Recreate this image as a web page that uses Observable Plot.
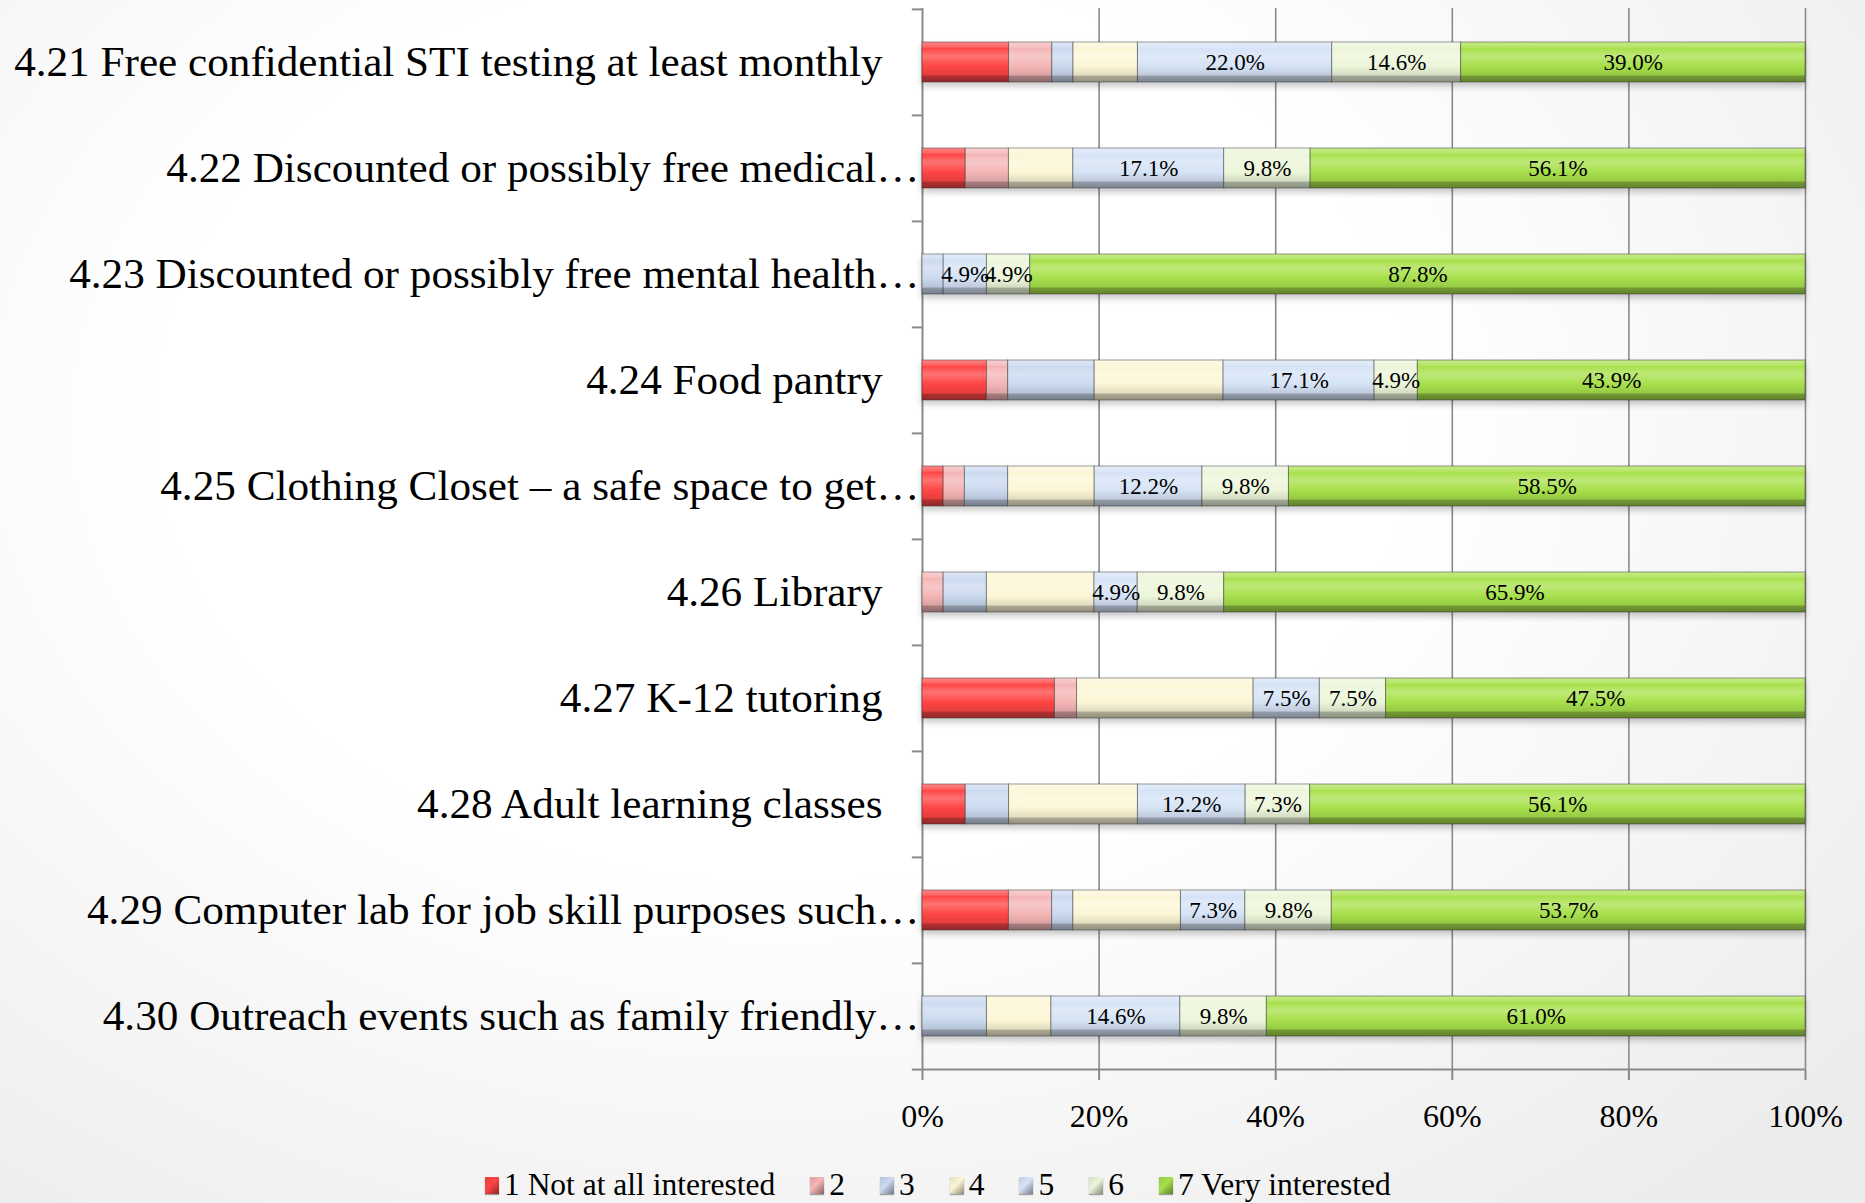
<!DOCTYPE html>
<html>
<head>
<meta charset="utf-8">
<script src="https://cdn.jsdelivr.net/npm/d3@7"></script>
<script src="https://cdn.jsdelivr.net/npm/@observablehq/plot@0.6"></script>
<style>
  html, body { margin: 0; padding: 0; }
  body {
    width: 1865px; height: 1203px; overflow: hidden; position: relative;
    background: radial-gradient(ellipse 75% 85% at 42% 35%, #ffffff 45%, #ececec 100%);
    font-family: "Liberation Serif", "DejaVu Serif", serif;
  }
  #chart { position: absolute; left: 0; top: 0; }
  #legend {
    position: absolute; left: 485px; top: 1167px;
    display: flex; align-items: center; gap: 0;
    font-size: 31.5px; color: #000; white-space: nowrap;
  }
  .item { display: flex; align-items: center; margin-right: 35px; }
  .sw { width: 14px; height: 17px; margin-right: 5px; box-shadow: 0 1px 1px rgba(0,0,0,0.35); }
</style>
</head>
<body>
<div id="chart"></div>
<div id="legend"></div>
<script>
const categories = [
  "4.21 Free confidential STI testing at least monthly",
  "4.22 Discounted or possibly free medical…",
  "4.23 Discounted or possibly free mental health…",
  "4.24 Food pantry",
  "4.25 Clothing Closet – a safe space to get…",
  "4.26 Library",
  "4.27 K-12 tutoring",
  "4.28 Adult learning classes",
  "4.29 Computer lab for job skill purposes such…",
  "4.30 Outreach events such as family friendly…"
];
const seriesNames = ["1 Not at all interested", "2", "3", "4", "5", "6", "7 Very interested"];
const s1 = [9.8, 4.9, 0, 7.3, 2.4, 0, 15.0, 4.9, 9.8, 0];
const s2 = [4.9, 4.9, 0, 2.4, 2.4, 2.4, 2.5, 0, 4.9, 0];
const s3 = [2.4, 0, 2.4, 9.8, 4.9, 4.9, 0, 4.9, 2.4, 7.3];
const s4 = [7.3, 7.3, 0, 14.6, 9.8, 12.2, 20.0, 14.6, 12.2, 7.3];
const s5 = [22.0, 17.1, 4.9, 17.1, 12.2, 4.9, 7.5, 12.2, 7.3, 14.6];
const s6 = [14.6, 9.8, 4.9, 4.9, 9.8, 9.8, 7.5, 7.3, 9.8, 9.8];
const s7 = [39.0, 56.1, 87.8, 43.9, 58.5, 65.9, 47.5, 56.1, 53.7, 61.0];
const labeledSeries = ["5", "6", "7 Very interested"];
const xTicks = [0, 0.2, 0.4, 0.6, 0.8, 1];

const baseColors = ["#ff4545", "#f4b5b6", "#cbdaf0", "#fcf6d6", "#d5e3f6", "#ecf6da", "#a8e04c"];

const allSeries = [s1, s2, s3, s4, s5, s6, s7];
const data = [];
allSeries.forEach((arr, k) => arr.forEach((v, i) => data.push({cat: categories[i], k: seriesNames[k], v})));

const W = 1865, H = 1150, mt = 8, mb = 80, ml = 922, mr = 60;
const step = (H - mt - mb) / categories.length;
const font = "Liberation Serif, DejaVu Serif, serif";

const full = categories.filter(c => !c.endsWith("…"));
const trunc = categories.filter(c => c.endsWith("…"));

const chart = Plot.plot({
  width: W, height: H,
  marginTop: mt, marginBottom: mb, marginLeft: ml, marginRight: mr,
  style: {background: "transparent", fontFamily: font, color: "#000"},
  x: {domain: [0, 1], axis: null, label: null},
  y: {domain: categories, axis: null, paddingInner: 0.62, paddingOuter: 0.31},
  color: {domain: seriesNames, range: seriesNames.map((_, i) => `url(#grad${i})`)},
  marks: [
    Plot.gridX(xTicks.slice(1), {stroke: "#8a8a8a", strokeOpacity: 1, strokeWidth: 1.6}),
    Plot.ruleX([0], {stroke: "#8a8a8a", strokeWidth: 2}),
    Plot.ruleY([categories[categories.length - 1]], {stroke: "#8a8a8a", strokeWidth: 2, dy: step / 2}),
    Plot.ruleY(categories, {x1: -0.0115, x2: 0, stroke: "#8a8a8a", strokeWidth: 2, dy: -step / 2}),
    Plot.ruleY([categories[categories.length - 1]], {x1: -0.0115, x2: 0, stroke: "#8a8a8a", strokeWidth: 2, dy: step / 2}),
    Plot.axisX(xTicks, {tickSize: 10, tickPadding: 24, tickFormat: d3.format(".0%"), fontSize: 32, stroke: "#8a8a8a", strokeWidth: 2, color: "#000", label: null}),
    Plot.barX(data, Plot.stackX({x: "v", y: "cat", fill: "k", offset: "normalize", stroke: "rgba(40,40,40,0.45)", strokeWidth: 1})),
    Plot.text(data, Plot.stackX({
      x: "v", y: "cat", z: "k", offset: "normalize",
      text: d => labeledSeries.includes(d.k) && d.v > 0 ? d.v.toFixed(1) + "%" : "",
      fontSize: 23, fill: "#000"
    })),
    Plot.text(full, {y: d => d, text: d => d, frameAnchor: "left", textAnchor: "end", dx: -40, fontSize: 43.2, fill: "#000"}),
    Plot.text(trunc, {y: d => d, text: d => d, frameAnchor: "left", textAnchor: "end", dx: -3, fontSize: 43.2, fill: "#000"})
  ]
});

// gradients for bevelled bars
function shade(c, t) { // t>0 lighten toward white, t<0 darken
  const col = d3.rgb(c);
  const target = t > 0 ? 255 : 0, a = Math.abs(t);
  return d3.rgb(col.r + (target - col.r) * a, col.g + (target - col.g) * a, col.b + (target - col.b) * a).formatHex();
}
const ns = "http://www.w3.org/2000/svg";
const defs = document.createElementNS(ns, "defs");
baseColors.forEach((c, i) => {
  const g = document.createElementNS(ns, "linearGradient");
  g.setAttribute("id", `grad${i}`);
  g.setAttribute("x1", "0"); g.setAttribute("y1", "0"); g.setAttribute("x2", "0"); g.setAttribute("y2", "1");
  const stops = [[0, shade(c, 0.35)], [0.13, shade(c, 0.15)], [0.16, c], [0.35, shade(c, 0.25)], [0.6, c], [0.82, shade(c, -0.1)], [0.86, shade(c, -0.32)], [1, shade(c, -0.42)]];
  stops.forEach(([o, col]) => {
    const s = document.createElementNS(ns, "stop");
    s.setAttribute("offset", o); s.setAttribute("stop-color", col);
    g.appendChild(s);
  });
  defs.appendChild(g);
});
chart.insertBefore(defs, chart.firstChild);
const barG = chart.querySelector('g[aria-label="bar"]');
if (barG) barG.style.filter = "drop-shadow(0px 4px 3px rgba(0,0,0,0.22))";
document.getElementById("chart").appendChild(chart);

// legend
const legend = document.getElementById("legend");
seriesNames.forEach((name, i) => {
  const c = baseColors[i];
  const item = document.createElement("div");
  item.className = "item";
  const sw = document.createElement("div");
  sw.className = "sw";
  sw.style.background = `linear-gradient(135deg, ${shade(c, -0.1)} 0%, ${c} 45%, ${shade(c, -0.45)} 100%)`;
  const t = document.createElement("span");
  t.textContent = name;
  item.appendChild(sw); item.appendChild(t);
  legend.appendChild(item);
});
</script>
</body>
</html>
